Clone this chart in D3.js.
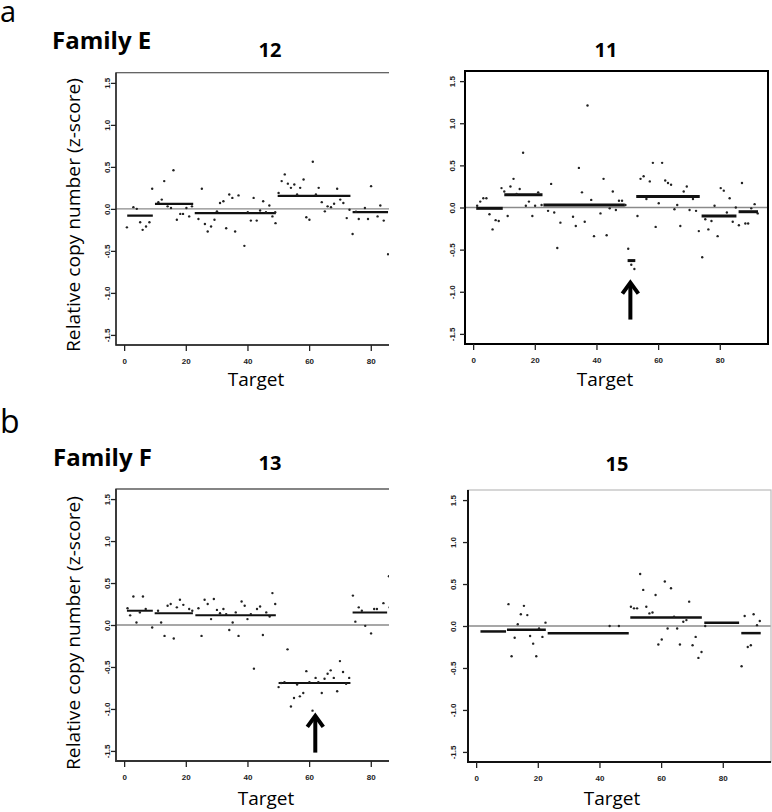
<!DOCTYPE html>
<html><head><meta charset="utf-8">
<script src="https://cdn.jsdelivr.net/npm/d3@7"></script>
<style>
html,body{margin:0;padding:0;background:#fff;}
svg{display:block;}
text{font-family:"Open Sans",sans-serif;}
.tick-label{font-family:"Liberation Sans",Arial,sans-serif;font-size:8px;font-weight:bold;fill:#222;}
</style></head>
<body>
<svg id="chart" width="772" height="812"></svg>
<script>
// ---------- data ----------
const xTickValues = [0, 20, 40, 60, 80];
const yTickValues = [-1.5, -1.0, -0.5, 0.0, 0.5, 1.0, 1.5];
const yTickLabels = ["-1.5", "-1.0", "-0.5", "0.0", "0.5", "1.0", "1.5"];
const panelTitles = ["12", "11", "13", "15"];
const familyLabels = ["Family E", "Family F"];

// sample 12 (Family E)
const s12Points = [[0.9,-0.22],[3.0,0.02],[4.1,0.0],[5.2,-0.16],[6.0,-0.25],[7.1,-0.21],[8.2,-0.16],[9.1,0.24],
 [11.1,0.08],[12.2,0.11],[13.0,0.33],[14.1,0.03],[15.2,0.01],[16.0,0.46],[17.1,-0.13],[18.2,-0.06],[19.1,-0.06],[20.2,0.01],[21.1,-0.09],[22.0,0.03],
 [24.1,-0.12],[25.2,0.24],[26.2,-0.18],[27.1,-0.27],[28.2,-0.21],[29.3,-0.13],[30.1,-0.03],[31.1,0.07],[32.2,0.09],[33.1,-0.23],[34.1,0.17],[35.1,0.13],[36.0,-0.27],[37.1,0.16],[39.0,-0.44],[40.1,-0.04],[41.1,-0.14],[42.0,0.13],[43.0,-0.14],[44.1,-0.02],[45.1,0.09],[46.0,-0.04],[47.1,0.04],[48.1,-0.09],[49.0,-0.04],[49.1,-0.17],
 [50.1,0.19],[51.1,0.33],[52.1,0.41],[53.1,0.30],[54.1,0.25],[55.2,0.29],[56.1,0.17],[57.1,0.25],[58.2,0.35],[59.1,-0.10],[60.1,-0.13],[61.2,0.56],[62.2,0.17],[63.1,0.25],[64.1,0.08],[65.1,-0.03],[66.0,0.03],[67.1,0.02],[68.1,0.06],[69.1,0.24],[70.1,0.11],[71.1,0.07],[72.2,-0.11],[73.1,-0.01],[74.1,-0.30],
 [75.2,-0.035],[76.1,-0.12],[78.1,0.01],[79.1,-0.12],[80.1,0.27],[82.2,-0.09],[83.1,0.04],[84.2,-0.14],[85.6,-0.54]];
const s12Segments = [[1.0,9.3,-0.08],[10.0,22.4,0.06],[22.9,49.2,-0.05],[49.8,73.4,0.155],[74.1,85.6,-0.04]];

// sample 11 (Family E)
const s11Points = [[1.3,0.02],[2.3,0.07],[3.3,0.11],[4.3,0.11],[5.3,-0.08],[6.3,-0.26],[7.3,-0.15],[8.3,-0.16],[9.2,0.23],
 [10.1,0.19],[11.2,-0.10],[12.1,0.25],[13.1,0.34],[14.1,0.16],[15.1,0.22],[16.2,0.65],[17.1,0.02],[18.1,0.07],[19.2,-0.10],[20.1,0.02],[21.1,0.18],[22.2,0.03],
 [24.3,-0.04],[25.3,0.28],[26.3,-0.06],[27.3,-0.48],[28.3,-0.18],[32.4,-0.11],[33.3,-0.22],[34.3,0.47],[35.3,0.18],[36.2,-0.17],[37.1,1.21],[38.3,0.09],[39.2,-0.34],[41.3,-0.07],[42.3,0.34],[43.3,-0.33],[44.3,-0.01],[45.3,0.19],[46.3,-0.03],[47.3,0.08],[48.3,0.08],[49.4,0.03],
 [50.3,-0.49],[51.3,-0.68],[52.3,-0.73],
 [53.3,-0.10],[54.3,0.34],[55.3,0.37],[56.2,0.10],[57.3,0.31],[58.3,0.53],[59.2,-0.23],[60.2,0.05],[61.3,0.53],[62.3,0.32],[63.2,0.29],[64.2,0.27],[65.3,-0.02],[66.2,0.03],[67.2,-0.22],[68.3,0.19],[69.3,0.25],[70.2,-0.03],[71.3,0.10],[72.3,-0.04],[73.2,-0.28],
 [74.3,-0.59],[75.3,-0.14],[76.3,-0.26],[77.3,-0.16],[78.3,0.02],[79.3,-0.34],[80.3,0.23],[81.3,0.20],[82.3,-0.06],[83.2,0.11],[84.2,-0.17],[85.2,0.0],
 [86.2,-0.21],[87.2,0.29],[88.3,-0.19],[89.2,-0.19],[90.2,-0.01],[91.3,0.04],[92.3,-0.07]];
const s11Segments = [[1.0,9.6,-0.01],[10.1,22.5,0.15],[22.8,49.2,0.03],[50.1,52.6,-0.63],[52.9,73.5,0.13],[74.1,85.4,-0.10],[86.1,92.4,-0.05]];

// sample 13 (Family F)
const s13Points = [[1.1,0.20],[1.95,0.115],[3.0,0.34],[4.0,0.03],[5.1,0.15],[6.1,0.34],[7.0,0.19],[9.1,-0.03],
 [11.0,0.17],[12.0,0.03],[13.1,-0.13],[14.1,0.23],[15.1,0.25],[16.1,-0.16],[17.1,0.21],[18.1,0.30],[19.2,0.24],[21.1,0.19],[22.1,0.17],
 [24.1,0.20],[25.1,-0.13],[26.1,0.30],[27.1,0.25],[28.2,0.07],[29.1,0.31],[30.1,0.18],[31.1,0.14],[32.2,0.19],[33.1,0.13],[34.1,-0.06],[35.2,0.03],[36.2,0.15],[37.1,-0.13],[38.1,0.28],[39.1,0.23],[40.0,0.07],[41.1,0.13],[42.1,-0.52],[43.1,0.19],[44.1,0.22],[45.0,-0.12],[46.1,0.15],[47.2,0.10],[48.1,0.38],[49.0,0.25],
 [50.1,-0.74],[50.9,-0.69],[52.0,-0.68],[53.0,-0.29],[54.1,-0.97],[55.1,-0.87],[56.1,-0.71],[57.0,-0.85],[58.1,-0.81],[59.1,-0.55],[60.1,-0.68],[61.1,-1.02],[62.1,-0.63],[63.0,-0.68],[64.1,-0.81],[65.0,-0.64],[66.0,-0.58],[67.0,-0.54],[68.0,-0.63],[69.1,-0.79],[70.0,-0.43],[71.0,-0.56],[72.0,-0.70],[73.0,-0.63],
 [74.2,0.35],[75.0,0.04],[76.1,0.21],[77.1,0.17],[78.2,-0.01],[80.1,-0.10],[81.1,0.19],[82.0,0.19],[84.1,0.26],[85.9,0.58],[86.1,0.21]];
const s13Segments = [[0.9,9.3,0.17],[9.9,22.3,0.14],[23.1,49.2,0.115],[50.1,73.4,-0.69],[74.1,85.3,0.15],[86.0,92.0,0.21]];

// sample 15 (Family F)
const s15Points = [[10.5,0.26],[11.5,-0.36],[12.5,-0.14],[13.5,0.02],[14.5,0.14],[15.5,0.24],[16.6,0.13],[17.5,-0.12],[18.5,-0.21],[19.5,-0.36],[20.4,-0.03],[21.5,-0.13],[22.5,0.04],
 [43.3,0.0],[46.3,0.0],
 [50.2,0.23],[51.2,0.21],[52.2,0.21],[53.2,0.62],[54.2,0.43],[55.2,0.23],[56.2,0.15],[57.2,0.16],[58.2,0.37],[59.1,-0.22],[60.2,-0.16],[61.2,0.53],[62.1,-0.03],[63.2,0.45],[64.2,0.11],[65.2,-0.03],[66.1,-0.22],[67.2,0.05],[68.2,0.07],[69.1,0.29],[70.2,-0.23],[71.2,-0.13],[72.1,-0.38],[73.1,-0.31],
 [74.3,0.0],
 [86.1,-0.48],[87.1,0.12],[88.1,-0.25],[89.1,-0.23],[90.0,0.14],[91.1,0.01],[92.0,0.06]];
const s15Segments = [[1.4,9.7,-0.065],[10.0,22.6,-0.045],[23.2,49.5,-0.085],[50.0,73.2,0.10],[74.0,85.3,0.04],[86.0,92.3,-0.085]];

// arrows: [x, yBottom, yTip]
const s11Arrow = [51, -1.33, -0.88];
const s13Arrow = [62, -1.52, -1.07];

// ---------- layout ----------
const svg = d3.select("#chart");
const xDomain = [-2.64, 95.64];
const yDomain = [-1.62, 1.62];

const panels = [
  {title: panelTitles[0], pts: s12Points, segs: s12Segments, arrow: null,
   left: 116, right: 419, clipRight: 389, top: 72.7, bottom: 345, titleX: 270, titleY: 57,
   frame: "#555", frameW: 1.2, axisCol: "#222", axisW: 1.4, segW: 2.2, yLabelX: 107, targetX: 256, targetY: 386},
  {title: panelTitles[1], pts: s11Points, segs: s11Segments, arrow: s11Arrow,
   left: 465, right: 768, clipRight: 772, top: 71, bottom: 344, titleX: 606, titleY: 57,
   frame: "#000", frameW: 2, axisCol: "#000", axisW: 2, segW: 3, yLabelX: 451.5, targetX: 605, targetY: 386},
  {title: panelTitles[2], pts: s13Points, segs: s13Segments, arrow: s13Arrow,
   left: 116, right: 419, clipRight: 389, top: 489, bottom: 761, titleX: 270, titleY: 470,
   frame: "#444", frameW: 1.3, axisCol: "#333", axisW: 1.8, segW: 2, yLabelX: 107, targetX: 266, targetY: 805},
  {title: panelTitles[3], pts: s15Points, segs: s15Segments, arrow: null,
   left: 468, right: 771, clipRight: 772, top: 490, bottom: 762, titleX: 617, titleY: 471,
   frame: "#bbb", frameW: 1.2, axisCol: "#111", axisW: 2, segW: 2.5, yLabelX: 453, targetX: 612, targetY: 805}
];

panels.forEach((p, i) => {
  const x = d3.scaleLinear().domain(xDomain).range([p.left, p.right]);
  const y = d3.scaleLinear().domain(yDomain).range([p.bottom, p.top]);
  const g = svg.append("g");
  const clipId = "clip" + i;
  svg.append("clipPath").attr("id", clipId).append("rect")
    .attr("x", p.left - 30).attr("y", p.top - 5)
    .attr("width", p.clipRight - p.left + 30).attr("height", p.bottom - p.top + 40);
  const cg = g.append("g").attr("clip-path", `url(#${clipId})`);

  cg.append("line").attr("x1", p.left).attr("x2", p.right)
    .attr("y1", y(0)).attr("y2", y(0)).attr("stroke", "#8a8a8a").attr("stroke-width", 1.3);

  cg.selectAll(".seg").data(p.segs).join("line")
    .attr("x1", d => x(d[0])).attr("x2", d => x(d[1]))
    .attr("y1", d => y(d[2])).attr("y2", d => y(d[2]))
    .attr("stroke", "#111").attr("stroke-width", p.segW);

  cg.selectAll(".pt").data(p.pts).join("circle")
    .attr("cx", d => x(d[0])).attr("cy", d => y(d[1])).attr("r", 1.2).attr("fill", "#222");

  cg.append("rect").attr("x", p.left).attr("y", p.top)
    .attr("width", p.right - p.left).attr("height", p.bottom - p.top)
    .attr("fill", "none").attr("stroke", p.frame).attr("stroke-width", p.frameW);
  // left & bottom edges drawn darker
  cg.append("path")
    .attr("d", `M${p.left},${p.top} L${p.left},${p.bottom} L${p.right},${p.bottom}`)
    .attr("fill", "none").attr("stroke", p.axisCol).attr("stroke-width", p.axisW);

  const xa = cg.append("g").attr("transform", `translate(0,${p.bottom})`)
    .call(d3.axisBottom(x).tickValues(xTickValues).tickSize(6).tickFormat(d3.format("d")));
  xa.select(".domain").remove();
  xa.selectAll("line").attr("stroke", "#222").attr("stroke-width", 1.3);
  xa.selectAll("text").attr("class", "tick-label").attr("dy", "1.2em");

  const ya = cg.append("g").attr("transform", `translate(${p.left},0)`)
    .call(d3.axisLeft(y).tickValues(yTickValues).tickSize(5)
      .tickFormat((d, k) => yTickLabels[k]));
  ya.select(".domain").remove();
  ya.selectAll("line").attr("stroke", "#222").attr("stroke-width", 1.3);
  ya.selectAll("text").attr("class", "tick-label")
    .attr("x", 0).attr("dy", 0)
    .attr("text-anchor", "middle")
    .attr("transform", `translate(${p.yLabelX - p.left + 3},0) rotate(-90)`);

  if (p.arrow) {
    const [ax, yb, yt] = p.arrow;
    const tipY = y(yt), baseY = y(yb), cx = x(ax);
    cg.append("line").attr("x1", cx).attr("x2", cx).attr("y1", baseY).attr("y2", tipY + 2)
      .attr("stroke", "#000").attr("stroke-width", 4);
    cg.append("path")
      .attr("d", `M${cx - 8},${tipY + 12} L${cx},${tipY + 1} L${cx + 8},${tipY + 12}`)
      .attr("fill", "none").attr("stroke", "#000").attr("stroke-width", 4)
      .attr("stroke-linejoin", "miter");
  }

  svg.append("text").attr("x", p.titleX).attr("y", p.titleY)
    .attr("text-anchor", "middle").attr("font-size", 20).attr("font-weight", "bold")
    .text(p.title);

  svg.append("text").attr("x", p.targetX).attr("y", p.targetY)
    .attr("text-anchor", "middle").attr("font-size", 19)
    .text("Target");
});

[[80, 215], [80, 633]].forEach(([bx, cy]) => {
  svg.append("text").attr("transform", `translate(${bx},${cy}) rotate(-90)`)
    .attr("text-anchor", "middle").attr("font-size", 19)
    .attr("textLength", 274).attr("lengthAdjust", "spacingAndGlyphs")
    .text("Relative copy number (z-score)");
});

svg.append("text").attr("x", 0).attr("y", 22).attr("font-size", 29).text("a");
svg.append("text").attr("x", 0).attr("y", 433).attr("font-size", 32).text("b");
svg.append("text").attr("x", 52).attr("y", 49).attr("font-size", 24).attr("font-weight", "bold").text(familyLabels[0]);
svg.append("text").attr("x", 53).attr("y", 466).attr("font-size", 24).attr("font-weight", "bold").text(familyLabels[1]);
</script>
</body></html>
